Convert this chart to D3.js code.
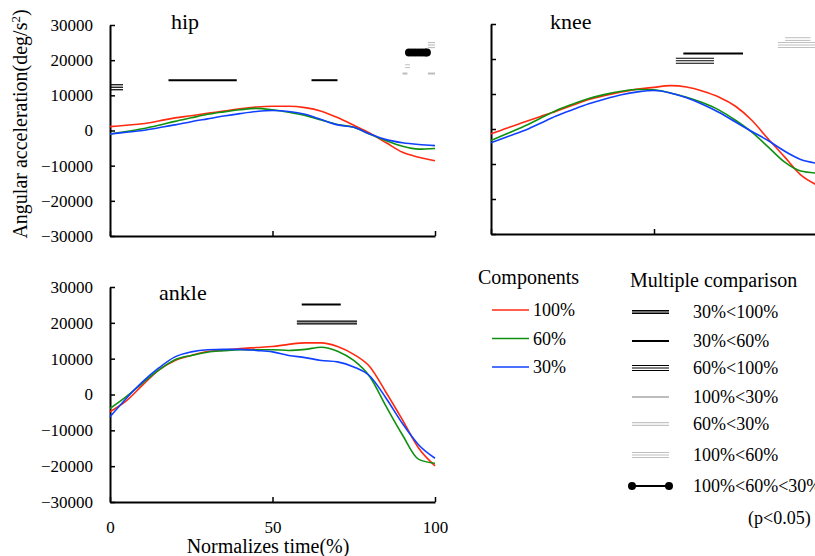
<!DOCTYPE html>
<html>
<head>
<meta charset="utf-8">
<script src="https://cdn.jsdelivr.net/npm/d3@7"></script>
<style>
  body { margin: 0; background: #fff; }
</style>
</head>
<body>
<div id="chart"></div>
<script>
// normalized time (%) sample points
const pct = [0, 5, 10, 15, 20, 25, 30, 35, 40, 45, 50, 55, 60, 65, 70, 75, 80, 85, 90, 95, 100];

// angular acceleration (deg/s^2), one array per joint and component
const hip100 = [1100, 1500, 1900, 2700, 3600, 4200, 4900, 5500, 6200, 6700, 6900, 6900, 6500, 5500, 3700, 1500, -800, -3500, -6200, -7600, -8600];
const hip60 = [-1000, -300, 500, 1500, 2600, 3600, 4600, 5300, 5900, 6300, 5900, 5200, 4300, 3000, 1700, 900, -1100, -2900, -4500, -5300, -5100];
const hip30 = [-1000, -500, 0, 800, 1600, 2500, 3300, 4100, 4800, 5400, 5700, 5400, 4600, 3100, 1600, 900, -1000, -2600, -3500, -4000, -4300];

const knee100 = [-1400, 300, 1900, 3500, 5100, 6800, 8400, 9600, 10600, 11400, 11900, 12400, 12000, 10800, 9100, 6500, 2500, -2800, -7900, -13100, -16000];
const knee60 = [-3300, -1300, 700, 3000, 5300, 7100, 8700, 9900, 10800, 11300, 11200, 10300, 9100, 7500, 5400, 2500, -900, -5100, -9400, -12000, -12600];
const knee30 = [-3900, -2200, -500, 1600, 3700, 5500, 7200, 8600, 9800, 10600, 11000, 10300, 8900, 7000, 4700, 2000, -700, -3300, -6300, -8700, -9800];

const ankle100 = [-4800, -1800, 2600, 6800, 9500, 10900, 12000, 12400, 12800, 13100, 13400, 14000, 14400, 14400, 13400, 11200, 7700, 500, -7100, -15000, -19900];
const ankle60 = [-3900, -600, 3200, 6800, 9700, 10900, 11800, 12200, 12500, 12500, 12500, 12300, 12600, 13200, 12100, 9500, 4900, -3400, -11300, -18100, -19200];
const ankle30 = [-6200, -1100, 3500, 7400, 10500, 11900, 12500, 12600, 12600, 12300, 11900, 10900, 10300, 9500, 9100, 7700, 5100, -1100, -8100, -14100, -17800];

// significant intervals: [comparison, start %, end %, level]
const hipSig = [
    ["60%<100%", 0, 4, 12300],
    ["30%<60%", 18, 39, 14300],
    ["30%<60%", 62, 70, 14300],
    ["100%<30%", 90, 91.5, 16200],
    ["100%<30%", 97.8, 100, 16200],
    ["60%<30%", 90.8, 92.3, 18300],
    ["100%<60%<30%", 92, 97.5, 22200],
    ["100%<60%", 97.8, 100, 24300]
];
const kneeSig = [
    ["60%<100%", 56.7, 68.4, 19500],
    ["30%<60%", 59, 77.3, 21600],
    ["100%<60%", 88, 100, 24000],
    ["60%<30%", 90.2, 98, 25700]
];
const ankleSig = [
    ["30%<100%", 57.5, 76, 20100],
    ["30%<60%", 59, 71, 25100]
];

const components = ["100%", "60%", "30%"];
const comparisons = ["30%<100%", "30%<60%", "60%<100%", "100%<30%", "60%<30%", "100%<60%", "100%<60%<30%"];
const yTicks = [-30000, -20000, -10000, 0, 10000, 20000, 30000];
const xTicks = [0, 50, 100];

const colors = { "100%": "#ff2a10", "60%": "#109010", "30%": "#1040ff" };
const FONT = "'Liberation Serif', 'Times New Roman', Times, 'DejaVu Serif', serif";

// how each comparison bar is drawn: line offsets, colour, width
const sigStyle = {
    "30%<100%": { color: "#000", offsets: [-1.4, 1.4], width: 1.1, fill: "#999" },
    "30%<60%": { color: "#000", offsets: [0], width: 2 },
    "60%<100%": { color: "#000", offsets: [-2.5, 0, 2.5], width: 1.2 },
    "100%<30%": { color: "#bdbdbd", offsets: [0], width: 2 },
    "60%<30%": { color: "#c4c4c4", offsets: [-1.4, 1.4], width: 1.1 },
    "100%<60%": { color: "#c0c0c0", offsets: [-2.5, 0, 2.5], width: 1.2 },
    "100%<60%<30%": { color: "#000", offsets: [0], width: 2, dots: true }
};

const svg = d3.select("#chart")
    .append("svg")
    .attr("width", 815)
    .attr("height", 556)
    .style("font-family", FONT);

const panels = [
    { name: "hip", series: [hip100, hip60, hip30], sig: hipSig, x0: 110, x1: 435, y0: 236, y1: 25, yLabels: true, xLabels: false, tx: 171, ty: 29 },
    { name: "knee", series: [knee100, knee60, knee30], sig: kneeSig, x0: 491, x1: 817, y0: 234, y1: 24, yLabels: false, xLabels: false, tx: 550, ty: 29 },
    { name: "ankle", series: [ankle100, ankle60, ankle30], sig: ankleSig, x0: 110, x1: 435, y0: 502, y1: 287, yLabels: true, xLabels: true, tx: 159, ty: 300 }
];

panels.forEach(drawPanel);
drawLegend();

// y axis title
svg.append("text")
    .attr("transform", "translate(27,124) rotate(-90)")
    .attr("text-anchor", "middle")
    .style("font-family", FONT)
    .style("font-size", "20px")
    .html('Angular acceleration(deg/s<tspan dy="-7" font-size="13px">2</tspan><tspan dy="7">)</tspan>');

// x axis title
svg.append("text")
    .attr("x", 268)
    .attr("y", 553)
    .attr("text-anchor", "middle")
    .style("font-family", FONT)
    .style("font-size", "20px")
    .text("Normalizes time(%)");

function drawPanel(p) {
    var x = d3.scaleLinear().domain([0, 100]).range([p.x0, p.x1]);
    var y = d3.scaleLinear().domain([-30000, 30000]).range([p.y0, p.y1]);
    var g = svg.append("g");

    var yAxis = d3.axisLeft(y)
        .tickValues(yTicks)
        .tickSizeInner(-5)
        .tickSizeOuter(0)
        .tickPadding(17)
        .tickFormat(p.yLabels ? d3.format("d") : "");
    var xAxis = d3.axisBottom(x)
        .tickValues(xTicks)
        .tickSizeInner(-5)
        .tickSizeOuter(0)
        .tickPadding(19)
        .tickFormat(p.xLabels ? d3.format("d") : "");

    var ya = g.append("g").attr("transform", `translate(${p.x0},0)`).call(yAxis);
    var xa = g.append("g").attr("transform", `translate(0,${p.y0})`).call(xAxis);
    [ya, xa].forEach(a => {
        a.attr("font-family", FONT).attr("font-size", 17);
        a.select(".domain").attr("stroke-width", 2);
        a.selectAll(".tick line").attr("stroke-width", 1.5);
        a.selectAll("text").style("font-family", FONT).style("font-size", "17px").attr("fill", "#000");
    });

    // curves
    var line = d3.line()
        .curve(d3.curveMonotoneX)
        .x((d, i) => x(pct[i]))
        .y(d => y(d));
    p.series.forEach((s, i) => {
        g.append("path")
            .datum(s)
            .attr("fill", "none")
            .attr("stroke", colors[components[i]])
            .attr("stroke-width", 1.6)
            .attr("d", line);
    });

    // significance bars
    p.sig.forEach(s => {
        drawSymbol(g, s[0], x(s[1]), x(s[2]), y(s[3]), s[1], s[2], x);
    });

    g.append("text")
        .attr("x", p.tx)
        .attr("y", p.ty)
        .style("font-family", FONT)
        .style("font-size", "22px")
        .text(p.name);
}

function drawSymbol(g, type, xa, xb, yy, start, end, x) {
    var st = sigStyle[type];
    if (st.fill) {
        g.append("line")
            .attr("x1", xa).attr("x2", xb).attr("y1", yy).attr("y2", yy)
            .attr("stroke", st.fill).attr("stroke-width", 2);
    }
    st.offsets.forEach(o => {
        g.append("line")
            .attr("x1", xa).attr("x2", xb)
            .attr("y1", yy + o).attr("y2", yy + o)
            .attr("stroke", st.color)
            .attr("stroke-width", st.width);
    });
    if (st.dots) {
        var pts;
        if (x) {
            // one marker per percent step inside the interval
            pts = d3.range(start, end + 0.001, 1).map(v => x(v));
            pts.push(xb);
        } else {
            pts = [xa, xb];
        }
        pts.forEach(px => {
            g.append("circle").attr("cx", px).attr("cy", yy).attr("r", 4).attr("fill", st.color);
        });
    }
}

function drawLegend() {
    var g = svg.append("g").style("font-family", FONT);

    g.append("text").attr("x", 478).attr("y", 284).style("font-size", "20px").text("Components");
    components.forEach((c, i) => {
        var yy = 310 + i * 28.5;
        g.append("line")
            .attr("x1", 492).attr("x2", 529).attr("y1", yy).attr("y2", yy)
            .attr("stroke", colors[c]).attr("stroke-width", 1.6);
        g.append("text").attr("x", 533).attr("y", yy + 6).style("font-size", "18px").text(c);
    });

    g.append("text").attr("x", 630).attr("y", 287).style("font-size", "20px").text("Multiple comparison");
    var rowY = [312, 341, 368, 397, 424, 455, 486];
    comparisons.forEach((c, i) => {
        drawSymbol(g, c, 632, 669, rowY[i]);
        g.append("text").attr("x", 693).attr("y", rowY[i] + 6).style("font-size", "18px").text(c);
    });
    g.append("text").attr("x", 748).attr("y", 524).style("font-size", "18px").text("(p<0.05)");
}
</script>
</body>
</html>
